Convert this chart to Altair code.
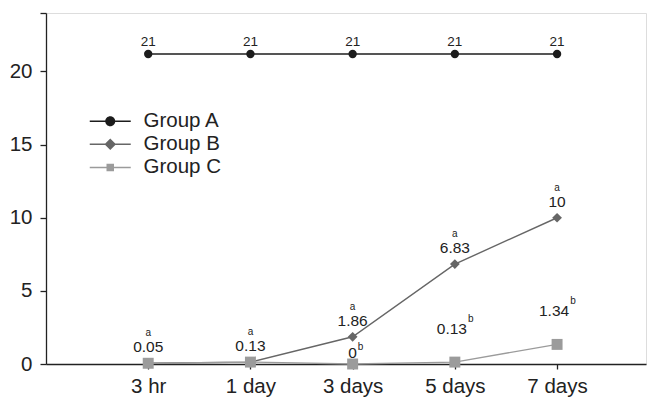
import altair as alt
import pandas as pd

times = ["3 hr", "1 day", "3 days", "5 days", "7 days"]
groups = ["Group A", "Group B", "Group C"]
group_a = [21.2, 21.2, 21.2, 21.2, 21.2]
group_b = [0.05, 0.13, 1.86, 6.83, 10.0]
group_c = [0.05, 0.13, 0.0, 0.13, 1.34]
labels_a = ["21", "21", "21", "21", "21"]
labels_b = ["0.05", "0.13", "1.86", "6.83", "10"]
labels_c = ["", "", "0", "0.13", "1.34"]
sup_a = ["", "", "", "", ""]
sup_b = ["a", "a", "a", "a", "a"]
sup_c = ["", "", "b", "b", "b"]

colors = ["#1c1c1c", "#666666", "#9b9b9b"]
shapes = ["circle", "diamond", "square"]
legend_paths = [
    "M-4.1,-0.15H4.1V0.15H-4.1Z M1,0A1,1 0 1,1 -1,0A1,1 0 1,1 1,0Z",
    "M-4.1,-0.15H4.1V0.15H-4.1Z M0,-1.15L1.15,0L0,1.15L-1.15,0Z",
    "M-4.1,-0.15H4.1V0.15H-4.1Z M-0.75,-0.75H0.75V0.75H-0.75Z",
]

rows = []
for g, vals, labs, sups in zip(groups, [group_a, group_b, group_c],
                               [labels_a, labels_b, labels_c], [sup_a, sup_b, sup_c]):
    for i, t in enumerate(times):
        rows.append({"group": g, "idx": i + 1, "time": t, "value": vals[i],
                     "label": labs[i], "sup": sups[i]})
df = pd.DataFrame(rows)

FONT = "Liberation Sans"
label_expr = "[" + ",".join(["''"] + ["'%s'" % t for t in times]) + "][datum.value]"

x = alt.X("idx:Q", scale=alt.Scale(domain=[0, 5.87], nice=False, zero=False),
          axis=alt.Axis(values=[1, 2, 3, 4, 5], labelExpr=label_expr, title=None, grid=False,
                        labelFontSize=20.5, labelColor="#222", labelFont=FONT,
                        domainColor="#222", tickColor="#222", domainWidth=1.3, tickWidth=1.3,
                        tickSize=5, labelPadding=7, labelFlush=False))
y = alt.Y("value:Q", scale=alt.Scale(domain=[0, 24], nice=False, zero=True),
          axis=alt.Axis(values=[0, 5, 10, 15, 20, 24], labelExpr="datum.value == 24 ? '' : datum.label",
                        title=None, grid=False, labelFontSize=20.5, labelColor="#222", labelFont=FONT,
                        domainColor="#222", tickColor="#222", domainWidth=1.3, tickWidth=1.3,
                        tickSize=6, labelPadding=8))

color_plain = alt.Color("group:N", scale=alt.Scale(domain=groups, range=colors), legend=None)

base = alt.Chart(df)

lines = base.mark_line(strokeWidth=1.4).encode(x=x, y=y, color=color_plain, detail="group:N")
points = base.mark_point(filled=True, opacity=1).encode(
    x=x, y=y, color=color_plain,
    shape=alt.Shape("group:N", scale=alt.Scale(domain=groups, range=shapes), legend=None),
    size=alt.Size("group:N", scale=alt.Scale(domain=groups, range=[70, 120, 70]), legend=None),
)

leg = alt.Legend(title=None, orient="none", legendX=54, legendY=98,
                 symbolSize=100, symbolStrokeWidth=0, labelFontSize=20.5,
                 labelFont=FONT, labelColor="#222", labelOffset=23,
                 rowPadding=2.1, padding=0)

legend_layer = base.transform_filter("false").mark_point(filled=True, opacity=1).encode(
    x=x, y=y,
    color=alt.Color("group:N", scale=alt.Scale(domain=groups, range=colors), legend=leg),
    shape=alt.Shape("group:N", scale=alt.Scale(domain=groups, range=legend_paths), legend=leg),
)

def txt(filt, field, size, dx=0, dy=0, align="center"):
    return base.transform_filter(filt).mark_text(
        font=FONT, fontSize=size, color="#222", dx=dx, dy=dy, align=align, baseline="middle"
    ).encode(x=x, y=y, text=f"{field}:N")

texts = [
    txt("datum.group == 'Group A'", "label", 13.5, dy=-12),
    txt("datum.group == 'Group B'", "label", 15.5, dy=-16),
    txt("datum.group == 'Group B'", "sup", 10, dy=-30),
    txt("datum.group == 'Group C' && datum.idx == 3", "label", 15.5, dy=-11),
    txt("datum.group == 'Group C' && datum.idx == 3", "sup", 10, dx=8, dy=-17),
    txt("datum.group == 'Group C' && datum.idx > 3", "label", 15.5, dx=-3, dy=-33.5),
    txt("datum.group == 'Group C' && datum.idx > 3", "sup", 10, dx=16, dy=-43),
]

chart = alt.layer(lines, points, legend_layer, *texts).resolve_scale(
    color="independent", shape="independent"
).properties(
    width=600, height=351,
    autosize=alt.AutoSizeParams(type="none"),
    padding={"left": 38, "top": 5, "right": 3, "bottom": 35},
).configure_view(stroke=None).configure(font=FONT)

chart.save("out.html", embed_options={"renderer": "svg", "actions": False})
